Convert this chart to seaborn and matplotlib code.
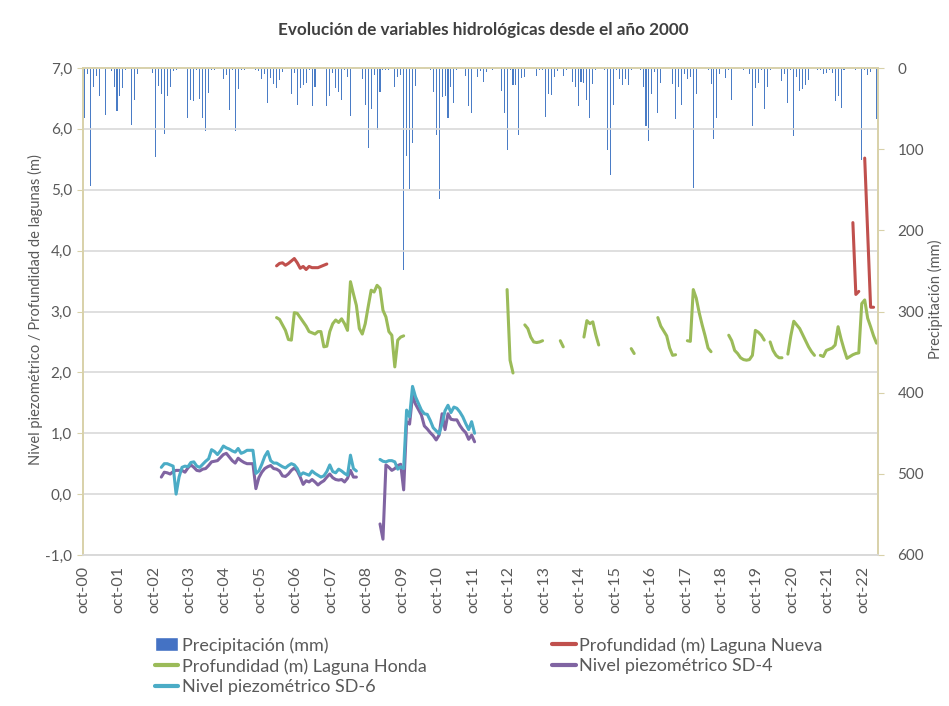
import numpy as np
import pandas as pd
import seaborn as sns
import matplotlib.pyplot as plt
from matplotlib.lines import Line2D
from matplotlib.patches import Patch
from matplotlib.ticker import FuncFormatter


title = "Evolución de variables hidrológicas desde el año 2000"
year_labels = [f"oct-{y:02d}" for y in range(23)]

# precipitación mensual (mm), un renglón por año hidrológico (oct-sep)
precip = [
    61, 8, 145, 23, 10, 34, 1, 58, 0, 4, 24, 53,       # 2000-01
    35, 25, 2, 1, 70, 39, 7, 1, 0, 0, 1, 6,            # 2001-02
    110, 22, 32, 81, 35, 24, 4, 2, 1, 0, 1, 61,        # 2002-03
    39, 41, 2, 38, 62, 78, 31, 2, 3, 1, 0, 14,         # 2003-04
    9, 52, 2, 78, 26, 2, 2, 1, 0, 1, 2, 4,             # 2004-05
    13, 8, 43, 12, 20, 25, 15, 5, 1, 0, 32, 6,         # 2005-06
    46, 25, 21, 18, 2, 47, 23, 1, 0, 1, 47, 34,        # 2006-07
    6, 25, 30, 40, 2, 11, 59, 1, 0, 1, 14, 45,         # 2007-08
    99, 51, 9, 76, 30, 3, 2, 2, 0, 24, 11, 9,          # 2008-09
    249, 108, 149, 92, 22, 1, 0, 1, 1, 3, 30, 82,      # 2009-10
    162, 36, 35, 61, 23, 43, 2, 0, 1, 10, 47, 56,      # 2010-11
    1, 11, 4, 17, 5, 0, 3, 1, 0, 28, 55, 101,          # 2011-12
    2, 21, 21, 83, 12, 11, 1, 0, 1, 10, 2, 2,          # 2012-13
    60, 32, 33, 11, 4, 1, 10, 2, 0, 17, 23, 47,        # 2013-14
    17, 19, 39, 62, 20, 2, 0, 1, 2, 101, 132, 45,      # 2014-15
    2, 13, 21, 14, 21, 2, 0, 1, 2, 23, 72, 90,         # 2015-16
    32, 5, 55, 19, 1, 0, 1, 20, 63, 23, 46, 8,         # 2016-17
    14, 11, 148, 32, 1, 0, 1, 2, 20, 87, 61, 8,        # 2017-18
    1, 12, 2, 39, 1, 0, 1, 2, 1, 7, 71, 25,            # 2018-19
    19, 2, 50, 23, 2, 1, 0, 1, 16, 8, 43, 2,           # 2019-20
    84, 11, 28, 26, 21, 15, 1, 0, 2, 3, 8, 6,          # 2020-21
    2, 6, 41, 35, 49, 2, 1, 0, 1, 2, 1, 113,           # 2021-22
    2, 9, 5, 1, 63,                                    # 2022-23
]

# series de líneas: {mes de inicio (0 = oct-00): valores del tramo}
laguna_nueva = {
    65: [3.75, 3.79, 3.80, 3.76, 3.79, 3.83, 3.87, 3.80, 3.71, 3.74,
         3.69, 3.74, 3.72, 3.72, 3.72, 3.74, 3.76, 3.78],
    260: [4.46, 3.28, 3.33],
    264: [5.52, 4.30, 3.07, 3.07],
}

laguna_honda = {
    65: [2.90, 2.87, 2.78, 2.69, 2.54, 2.53, 2.98, 2.97, 2.90, 2.83,
         2.76, 2.67, 2.65, 2.63, 2.67, 2.67, 2.42, 2.43, 2.67, 2.80,
         2.86, 2.82, 2.88, 2.80, 2.69, 3.49, 3.29, 3.10, 2.72, 2.63,
         2.80, 3.08, 3.35, 3.32, 3.43, 3.38, 3.02, 2.91, 2.67, 2.61,
         2.09, 2.53, 2.58, 2.60],
    143: [3.36, 2.20, 1.99],
    149: [2.78, 2.72, 2.58, 2.50, 2.49, 2.50, 2.52],
    161: [2.52, 2.42],
    169: [2.58, 2.85, 2.80, 2.83, 2.62, 2.45],
    185: [2.39, 2.31],
    194: [2.90, 2.76, 2.68, 2.60, 2.40, 2.28, 2.29],
    204: [2.52, 2.51, 3.36, 3.22, 2.98, 2.78, 2.60, 2.40, 2.34],
    218: [2.61, 2.52, 2.36, 2.31, 2.24, 2.21, 2.20, 2.21, 2.28, 2.69,
          2.66, 2.61, 2.53],
    232: [2.50, 2.36, 2.28, 2.24, 2.24],
    238: [2.30, 2.60, 2.84, 2.78, 2.72, 2.62, 2.52, 2.42, 2.34, 2.28],
    249: [2.28, 2.26, 2.36, 2.38, 2.40, 2.45, 2.75, 2.55, 2.38, 2.23,
          2.26, 2.29, 2.31, 2.32, 3.13, 3.19, 2.89, 2.75, 2.60, 2.48],
}

sd4 = {
    26: [0.28, 0.36, 0.35, 0.33, 0.37, 0.39, 0.39, 0.39, 0.36, 0.43,
         0.48, 0.44, 0.39, 0.38, 0.41, 0.42, 0.47, 0.53, 0.54, 0.55,
         0.60, 0.65, 0.67, 0.61, 0.55, 0.51, 0.59, 0.55, 0.52, 0.50,
         0.50, 0.50, 0.09, 0.27, 0.36, 0.42, 0.45, 0.47, 0.42, 0.41,
         0.38, 0.30, 0.29, 0.33, 0.39, 0.43, 0.38, 0.28, 0.16, 0.22,
         0.20, 0.24, 0.20, 0.15, 0.19, 0.22, 0.28, 0.33, 0.27, 0.24,
         0.23, 0.24, 0.20, 0.26, 0.39, 0.28, 0.28],
    100: [-0.49, -0.74, 0.48, 0.44, 0.39, 0.42, 0.47, 0.49, 0.07, 1.19,
          1.15, 1.62, 1.48, 1.39, 1.30, 1.12, 1.07, 1.01, 0.96, 0.89,
          0.97, 1.32, 1.06, 1.32, 1.23, 1.22, 1.22, 1.13, 1.06, 1.01,
          0.90, 0.97, 0.86],
}

sd6 = {
    26: [0.44, 0.50, 0.50, 0.48, 0.46, 0.00, 0.28, 0.44, 0.46, 0.45,
         0.52, 0.53, 0.46, 0.44, 0.49, 0.54, 0.58, 0.73, 0.70, 0.65,
         0.71, 0.79, 0.76, 0.74, 0.71, 0.69, 0.75, 0.67, 0.69, 0.72,
         0.72, 0.72, 0.34, 0.38, 0.49, 0.62, 0.70, 0.55, 0.51, 0.51,
         0.48, 0.45, 0.43, 0.47, 0.50, 0.48, 0.42, 0.31, 0.35, 0.33,
         0.31, 0.38, 0.34, 0.31, 0.28, 0.30, 0.37, 0.48, 0.37, 0.35,
         0.41, 0.38, 0.34, 0.31, 0.64, 0.42, 0.38],
    100: [0.57, 0.54, 0.53, 0.55, 0.55, 0.53, 0.41, 0.45, 0.42, 1.38,
          1.27, 1.77, 1.60, 1.49, 1.38, 1.32, 1.31, 1.21, 1.09, 1.04,
          0.99, 1.16, 1.37, 1.46, 1.34, 1.43, 1.41, 1.35, 1.27, 1.16,
          1.06, 1.19, 1.00],
}

series = {
    "Profundidad (m) Laguna Nueva": laguna_nueva,
    "Profundidad (m) Laguna Honda": laguna_honda,
    "Nivel piezométrico SD-4": sd4,
    "Nivel piezométrico SD-6": sd6,
}
palette = {
    "Profundidad (m) Laguna Nueva": "#C0504D",
    "Profundidad (m) Laguna Honda": "#9BBB59",
    "Nivel piezométrico SD-4": "#8064A2",
    "Nivel piezométrico SD-6": "#4BACC6",
}
bar_color = "#4A7CC6"
tan = "#d8d1a9"
grid_gray = "#d9d9d9"
text_gray = "#595959"

# tabla larga para seaborn, un "tramo" por trozo continuo de cada serie
rows = []
for name, segs in series.items():
    for start, vals in segs.items():
        for i, v in enumerate(vals):
            rows.append((name, f"{name}-{start}", start + i, v))
lines = pd.DataFrame(rows, columns=["serie", "tramo", "mes", "valor"])
rain = pd.DataFrame({"mes": np.arange(len(precip)), "mm": precip})

sns.set_style("white")
plt.rcParams["font.family"] = ["Lato", "DejaVu Sans"]

W, H = 949, 706
fig = plt.figure(figsize=(W / 100, H / 100), dpi=100)
ax = fig.add_axes([83 / W, 1 - 555 / H, (878 - 83) / W, (555 - 68) / H])
ax2 = ax.twinx()

sns.barplot(data=rain, x="mes", y="mm", ax=ax2, native_scale=True, orient="x",
            color=bar_color, saturation=1, width=0.35, errorbar=None, linewidth=0)
sns.lineplot(data=lines, x="mes", y="valor", hue="serie", units="tramo",
             estimator=None, sort=False, palette=palette, linewidth=2.2,
             legend=False, ax=ax)

ax.set_zorder(ax2.get_zorder() + 1)
ax.patch.set_visible(False)

# ejes
ax.set_xlim(-0.5, len(precip) - 0.5)
ax.set_xticks([-0.5 + 12 * k for k in range(len(year_labels))])
ax.set_xticklabels(year_labels, rotation=90, fontsize=11.5, color=text_gray)
ax.tick_params(axis="x", length=5, color=grid_gray, pad=3)

ax.set_ylim(-1, 7)
ax.set_yticks(range(-1, 8))
ax.yaxis.set_major_formatter(FuncFormatter(lambda v, p: f"{v:.1f}".replace(".", ",")))
ax.tick_params(axis="y", length=4, color=tan, pad=4, labelsize=11, labelcolor=text_gray)
ax.yaxis.grid(True, color=grid_gray, linewidth=1.2)
ax.xaxis.grid(False)
ax.set_axisbelow(True)

ax2.set_ylim(600, 0)
ax2.set_yticks(range(0, 601, 100))
ax2.tick_params(axis="y", length=4, color=tan, pad=10, labelsize=11, labelcolor=text_gray)

for a in (ax, ax2):
    a.set_xlabel("")
    a.set_ylabel("")
    a.spines["left"].set_color(tan)
    a.spines["right"].set_color(tan)
    a.spines["top"].set_color(tan)
    a.spines["bottom"].set_color(grid_gray)
    for s in a.spines.values():
        s.set_linewidth(1.2)

fig.text(483.5 / W, 1 - 30 / H, title, ha="center", va="center",
         fontsize=12.3, fontweight="bold", color="#404040")
fig.text(35 / W, 1 - 310 / H, "Nivel piezométrico / Profundidad de lagunas (m)",
         rotation=90, ha="center", va="center", fontsize=10.5, color=text_gray)
fig.text(935 / W, 1 - 299 / H, "Precipitación (mm)",
         rotation=90, ha="center", va="center", fontsize=10.5, color=text_gray)

handles = [
    Patch(facecolor="#4472C4", label="Precipitación (mm)"),
    Line2D([], [], color=palette["Profundidad (m) Laguna Honda"], lw=3, label="Profundidad (m) Laguna Honda"),
    Line2D([], [], color=palette["Nivel piezométrico SD-6"], lw=3, label="Nivel piezométrico SD-6"),
    Line2D([], [], color=palette["Profundidad (m) Laguna Nueva"], lw=3, label="Profundidad (m) Laguna Nueva"),
    Line2D([], [], color=palette["Nivel piezométrico SD-4"], lw=3, label="Nivel piezométrico SD-4"),
]
leg = fig.legend(handles=handles, ncol=2, loc="upper left",
                 bbox_to_anchor=(155 / W, 1 - 637 / H), frameon=False,
                 fontsize=13, handlelength=1.3, handleheight=0.8,
                 handletextpad=0.2, columnspacing=6.95, labelspacing=0.25,
                 borderpad=0, borderaxespad=0)
for t in leg.get_texts():
    t.set_color(text_gray)

fig.savefig("out.png", dpi=100)
